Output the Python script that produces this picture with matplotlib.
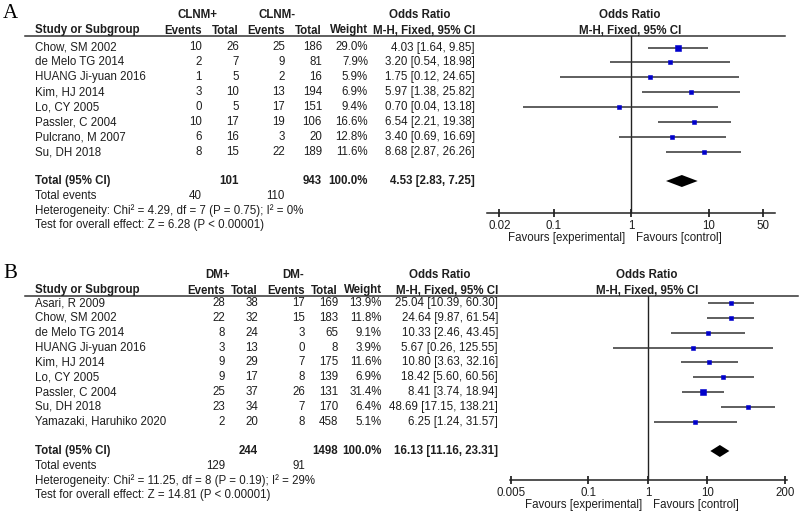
import numpy as np
import matplotlib
matplotlib.use("Agg")
import matplotlib.pyplot as plt

# Panel A data: CLNM+ vs CLNM-
studies_a = ["Chow, SM 2002", "de Melo TG 2014", "HUANG Ji-yuan 2016", "Kim, HJ 2014",
             "Lo, CY 2005", "Passler, C 2004", "Pulcrano, M 2007", "Su, DH 2018"]
ev_pos_a = [10, 2, 1, 3, 0, 10, 6, 8]
tot_pos_a = [26, 7, 5, 10, 5, 17, 16, 15]
ev_neg_a = [25, 9, 2, 13, 17, 19, 3, 22]
tot_neg_a = [186, 81, 16, 194, 151, 106, 20, 189]
weight_a = [29.0, 7.9, 5.9, 6.9, 9.4, 16.6, 12.8, 11.6]
or_a = [4.03, 3.20, 1.75, 5.97, 0.70, 6.54, 3.40, 8.68]
lo_a = [1.64, 0.54, 0.12, 1.38, 0.04, 2.21, 0.69, 2.87]
hi_a = [9.85, 18.98, 24.65, 25.82, 13.18, 19.38, 16.69, 26.26]
total_a = dict(tp=101, tn=943, ep=40, en=110, est=4.53, lo=2.83, hi=7.25,
               het="Heterogeneity: Chi² = 4.29, df = 7 (P = 0.75); I² = 0%",
               z="Test for overall effect: Z = 6.28 (P < 0.00001)")
ticks_a = [0.02, 0.1, 1, 10, 50]
tick_labels_a = ["0.02", "0.1", "1", "10", "50"]

# Panel B data: DM+ vs DM-
studies_b = ["Asari, R 2009", "Chow, SM 2002", "de Melo TG 2014", "HUANG Ji-yuan 2016",
             "Kim, HJ 2014", "Lo, CY 2005", "Passler, C 2004", "Su, DH 2018",
             "Yamazaki, Haruhiko 2020"]
ev_pos_b = [28, 22, 8, 3, 9, 9, 25, 23, 2]
tot_pos_b = [38, 32, 24, 13, 29, 17, 37, 34, 20]
ev_neg_b = [17, 15, 3, 0, 7, 8, 26, 7, 8]
tot_neg_b = [169, 183, 65, 8, 175, 139, 131, 170, 458]
weight_b = [13.9, 11.8, 9.1, 3.9, 11.6, 6.9, 31.4, 6.4, 5.1]
or_b = [25.04, 24.64, 10.33, 5.67, 10.80, 18.42, 8.41, 48.69, 6.25]
lo_b = [10.39, 9.87, 2.46, 0.26, 3.63, 5.60, 3.74, 17.15, 1.24]
hi_b = [60.30, 61.54, 43.45, 125.55, 32.16, 60.56, 18.94, 138.21, 31.57]
total_b = dict(tp=244, tn=1498, ep=129, en=91, est=16.13, lo=11.16, hi=23.31,
               het="Heterogeneity: Chi² = 11.25, df = 8 (P = 0.19); I² = 29%",
               z="Test for overall effect: Z = 14.81 (P < 0.00001)")
ticks_b = [0.005, 0.1, 1, 10, 200]
tick_labels_b = ["0.005", "0.1", "1", "10", "200"]

W, H = 800, 514
TXT = "#1e1e1e"
FS = 8.3
plt.rcParams["font.family"] = ["Liberation Sans", "DejaVu Sans"]

fig = plt.figure(figsize=(8, 5.14), dpi=100)
bg = fig.add_axes([0, 0, 1, 1])
bg.set_xlim(0, W)
bg.set_ylim(H, 0)
bg.axis("off")


def t(x, y, s, ha="left", bold=False, **kw):
    bg.text(x, y, s, ha=ha, va="center", fontsize=FS, color=TXT,
            fontweight="bold" if bold else "normal", **kw)


def panel(letter, top, grp, studies, ep, tp, en, tn, wt, ors, los, his, tot,
          cols, row0, step, tot_y, line_x1, fx0, fx1, fcenter, fscale, axis_y,
          ticks, tick_labels):
    c_ep, c_tp, c_en, c_tn, c_w, c_or, c_grp1, c_grp2, c_orh, c_fh = cols
    bg.text(3, top - 1, letter, fontsize=15, family="Liberation Serif",
            ha="left", va="center", color="black")
    h1, h2, hl = top, top + 15.5, top + 21
    t(c_grp1, h1, grp + "+", ha="center", bold=True)
    t(c_grp2, h1, grp + "-", ha="center", bold=True)
    t(c_orh, h1, "Odds Ratio", ha="center", bold=True)
    t(c_fh, h1, "Odds Ratio", ha="center", bold=True)
    t(35, h2, "Study or Subgroup", bold=True)
    for x, s in [(c_ep, "Events"), (c_tp, "Total"), (c_en, "Events"),
                 (c_tn, "Total"), (c_w, "Weight"), (c_or, "M-H, Fixed, 95% CI")]:
        t(x, h2, s, ha="right", bold=True)
    t(c_fh, h2, "M-H, Fixed, 95% CI", ha="center", bold=True)
    bg.plot([25, line_x1], [hl, hl], color="#333333", lw=1.1)

    ys = [row0 + i * step for i in range(len(studies))]
    for i, y in enumerate(ys):
        t(35, y, studies[i])
        t(c_ep, y, str(ep[i]), ha="right")
        t(c_tp, y, str(tp[i]), ha="right")
        t(c_en, y, str(en[i]), ha="right")
        t(c_tn, y, str(tn[i]), ha="right")
        t(c_w, y, f"{wt[i]:.1f}%", ha="right")
        t(c_or, y, f"{ors[i]:.2f} [{los[i]:.2f}, {his[i]:.2f}]", ha="right")

    t(35, tot_y, "Total (95% CI)", bold=True)
    t(c_tp, tot_y, str(tot["tp"]), ha="right", bold=True)
    t(c_tn, tot_y, str(tot["tn"]), ha="right", bold=True)
    t(c_w, tot_y, "100.0%", ha="right", bold=True)
    t(c_or, tot_y, f"{tot['est']:.2f} [{tot['lo']:.2f}, {tot['hi']:.2f}]",
      ha="right", bold=True)
    t(35, tot_y + 15, "Total events")
    t(c_ep, tot_y + 15, str(tot["ep"]), ha="right")
    t(c_en, tot_y + 15, str(tot["en"]), ha="right")
    t(35, tot_y + 29.5, tot["het"])
    t(35, tot_y + 44, tot["z"])

    # forest plot axes, log scale
    ax = fig.add_axes([fx0 / W, 1 - axis_y / H, (fx1 - fx0) / W, (axis_y - hl) / H])
    ax.set_xscale("log")
    ax.set_xlim(10 ** ((fx0 - fcenter) / fscale), 10 ** ((fx1 - fcenter) / fscale))
    ax.set_ylim(axis_y, hl)
    ax.patch.set_alpha(0)
    for s in ["top", "left", "right"]:
        ax.spines[s].set_visible(False)
    ax.spines["bottom"].set_color("#222222")
    ax.spines["bottom"].set_linewidth(1.1)
    ax.set_yticks([])
    ax.set_xticks(ticks)
    ax.set_xticklabels(tick_labels)
    ax.xaxis.set_minor_locator(matplotlib.ticker.NullLocator())
    ax.tick_params(axis="x", direction="inout", length=6, width=1.1,
                   labelsize=FS, labelcolor=TXT, pad=2)
    ax.axvline(1, color="#222222", lw=1)
    ax.hlines(ys, los, his, color="#333333", lw=1.1)
    for i, y in enumerate(ys):
        # square side grows with study weight
        side = 0.72 * (2.5 + 0.14 * wt[i])
        ax.plot(ors[i], y, "s", color="#0000cc", ms=side, mec="#0000cc", mew=0.4)
    ax.fill([tot["lo"], tot["est"], tot["hi"], tot["est"]],
            [tot_y, tot_y - 6, tot_y, tot_y + 6], color="black", lw=0)
    fy = axis_y + 25
    bg.text(fcenter - 6, fy, "Favours [experimental]", ha="right", va="center",
            fontsize=FS, color=TXT)
    bg.text(fcenter + 5, fy, "Favours [control]", ha="left", va="center",
            fontsize=FS, color=TXT)


panel("A", 15, "CLNM", studies_a, ev_pos_a, tot_pos_a, ev_neg_a, tot_neg_a,
      weight_a, or_a, lo_a, hi_a, total_a,
      cols=(202, 239, 285, 322, 368, 475, 197, 277, 420, 630),
      row0=47.5, step=14.95, tot_y=181, line_x1=785,
      fx0=487, fx1=775, fcenter=631, fscale=77.5, axis_y=213,
      ticks=ticks_a, tick_labels=tick_labels_a)

panel("B", 275, "DM", studies_b, ev_pos_b, tot_pos_b, ev_neg_b, tot_neg_b,
      weight_b, or_b, lo_b, hi_b, total_b,
      cols=(225, 258, 305, 338, 382, 498, 218, 293, 440, 647),
      row0=303, step=14.85, tot_y=451, line_x1=798,
      fx0=510, fx1=787, fcenter=648, fscale=59.5, axis_y=480,
      ticks=ticks_b, tick_labels=tick_labels_b)

fig.savefig("out.png", dpi=100)
